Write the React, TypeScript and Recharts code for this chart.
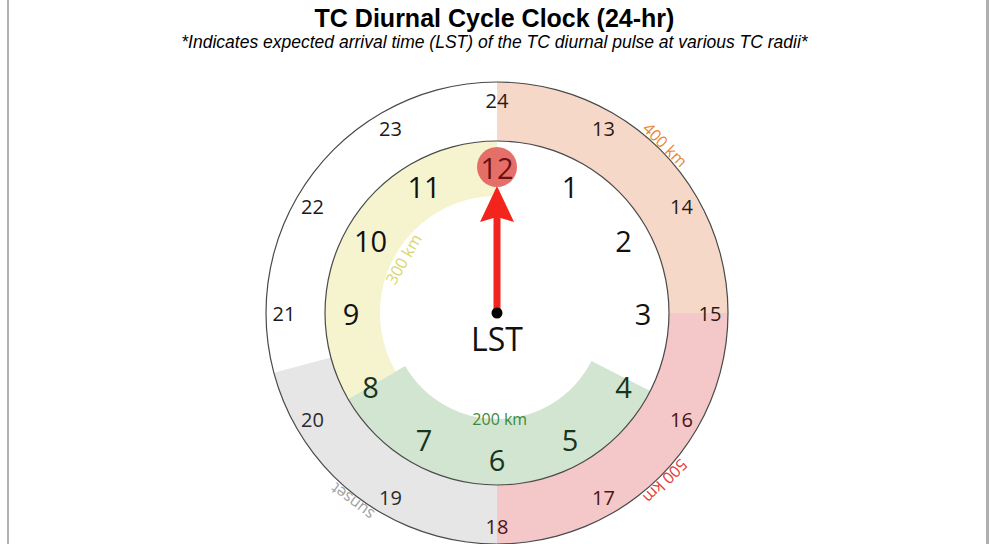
import { PieChart, Pie, Cell } from 'recharts'

// clock positions, clockwise from the top
const innerHours = ['12', '1', '2', '3', '4', '5', '6', '7', '8', '9', '10', '11']
const outerHours = ['24', '13', '14', '15', '16', '17', '18', '19', '20', '21', '22', '23']

// radius bands on the 24-hr ring (length in clock hours, starting at 24)
const outerBands = ['400 km', '500 km', 'sunset', '']
const outerBandHours = [3, 3, 2.5, 3.5]

// radius bands on the 12-hr ring (starting at 12)
const innerBands = ['', '200 km', '300 km']
const innerBandHours = [3.9, 4.1, 4]

const pointerHour = '12'

const CX = 497
const CY = 313
const RAD = Math.PI / 180
const NUM_FONT = '"Open Sans", "DejaVu Sans", sans-serif'

const outerFill = ['#f6d8c8', '#f4c7c9', '#e6e6e6', 'none']
const outerLabelColor = ['#e8872f', '#e23b3b', '#a0a0a0', '#000']
const outerNumColor = ['#2a1a16', '#4a1414', '#2b2b2b', '#1a1a1a']
const innerFill = ['none', '#d2e5d1', '#f6f3cf']
const innerEdge = [0, 106, 117]
const innerLabelColor = ['#000', '#3b8a3b', '#d9d66c']
const innerNumColor = ['#111', '#17361a', '#111']

const pt = (cx: number, cy: number, r: number, mid: number) => ({
  x: cx + r * Math.cos(-mid * RAD),
  y: cy + r * Math.sin(-mid * RAD),
})
const clockAngle = (mid: number) => (((90 - mid) % 360) + 360) % 360

// which band a clock position (in hours from the top) falls in
function bandOf(hours: number[], pos: number) {
  let start = 0
  for (let i = 0; i < hours.length; i++) {
    if (pos >= start - 0.01 && pos <= start + hours[i] + 0.01) return i
    start += hours[i]
  }
  return hours.length - 1
}

const hourData = (list: string[]) => list.map((h) => ({ name: h, value: 1 }))
const outerBandData = outerBands.map((name, i) => ({ name, value: outerBandHours[i] }))
const innerBandData = innerBands.map((name, i) => ({ name, value: innerBandHours[i] }))

function bandLabel(r: number, colors: string[]) {
  return (p: any) => {
    if (!p.name) return null
    const { x, y } = pt(p.cx, p.cy, r, p.midAngle)
    const a = clockAngle(p.midAngle)
    const rot = Math.abs(a - 180) < 10 ? 0 : a
    return (
      <text x={x} y={y} fill={colors[p.index]} fontSize={16} fontFamily={NUM_FONT}
        textAnchor="middle" dominantBaseline="central" transform={`rotate(${rot} ${x} ${y})`}>
        {p.name}
      </text>
    )
  }
}

function outerNumLabel(p: any) {
  const { x, y } = pt(p.cx, p.cy, 213, p.midAngle)
  const band = bandOf(outerBandHours, p.index)
  return (
    <text x={x} y={y} fill={outerNumColor[band]} fontSize={20} fontFamily={NUM_FONT}
      textAnchor="middle" dominantBaseline="central">
      {p.name}
    </text>
  )
}

function innerNumLabel(p: any) {
  const { x, y } = pt(p.cx, p.cy, 146, p.midAngle)
  const band = bandOf(innerBandHours, p.index)
  const isPointer = p.name === pointerHour
  const a = clockAngle(p.midAngle)
  return (
    <g>
      {isPointer && (
        <g>
          <g transform={`translate(${p.cx},${p.cy}) rotate(${a})`}>
            <rect x={-3.5} y={-96} width={7} height={96} fill="#f2241c" />
            <path d="M0,-127 L-17,-91 L0,-96 L17,-91 Z" fill="#f2241c" />
            <circle cx={0} cy={0} r={5.5} fill="#000" />
          </g>
          <circle cx={x} cy={y} r={20} fill="#e2605b" fillOpacity={0.9} />
          <text x={p.cx} y={p.cy + 25} fontSize={32} fontFamily={NUM_FONT} fill="#111"
            textAnchor="middle" dominantBaseline="central">LST</text>
        </g>
      )}
      <text x={x} y={y} fill={isPointer ? '#6e1010' : innerNumColor[band]} fontSize={29}
        fontFamily={NUM_FONT} textAnchor="middle" dominantBaseline="central">
        {p.name}
      </text>
    </g>
  )
}

export default function App() {
  return (
    <div style={{ position: 'absolute', left: 0, top: 0, width: 989, height: 544, background: '#fff' }}>
      <div style={{
        position: 'absolute', left: 7, top: 0, width: 977, height: 544,
        borderLeft: '2px solid #b3b3b3', borderRight: '3px solid #b0b0b0',
      }} />
      <div style={{
        position: 'absolute', left: 0, top: 4, width: 989, textAlign: 'center',
        fontFamily: '"Liberation Sans", Arial, sans-serif', fontWeight: 'bold', fontSize: 25,
      }}>
        TC Diurnal Cycle Clock (24-hr)
      </div>
      <div style={{
        position: 'absolute', left: 0, top: 32, width: 989, textAlign: 'center',
        fontFamily: '"Liberation Sans", Arial, sans-serif', fontStyle: 'italic', fontSize: 17.5,
      }}>
        *Indicates expected arrival time (LST) of the TC diurnal pulse at various TC radii*
      </div>
      <div style={{ position: 'absolute', left: 0, top: 0 }}>
        <PieChart width={989} height={544} margin={{ top: 0, right: 0, bottom: 0, left: 0 }}>
          <Pie data={outerBandData} dataKey="value" cx={CX} cy={CY} innerRadius={172} outerRadius={231}
            startAngle={90} endAngle={-270} stroke="none" labelLine={false}
            label={bandLabel(238, outerLabelColor)} isAnimationActive={false}>
            {outerBandData.map((d, i) => <Cell key={d.name + i} fill={outerFill[i]} stroke="none" />)}
          </Pie>
          {innerBands.map((b, k) => b ? (
            <Pie key={b} data={innerBandData} dataKey="value" cx={CX} cy={CY} innerRadius={innerEdge[k]}
              outerRadius={172} startAngle={90} endAngle={-270} stroke="none" labelLine={false}
              label={(p: any) => p.index === k ? bandLabel(k === 1 ? 106 : 108, innerLabelColor)(p) : null}
              isAnimationActive={false}>
              {innerBandData.map((d, i) => <Cell key={i} fill={i === k ? innerFill[k] : 'none'} stroke="none" />)}
            </Pie>
          ) : null)}
          {/* thin rims */}
          <Pie data={[{ name: 'outer rim', value: 1 }]} dataKey="value" cx={CX} cy={CY} innerRadius={230.4}
            outerRadius={231.6} startAngle={90} endAngle={-270} fill="#4a4a4a" stroke="none"
            isAnimationActive={false} />
          <Pie data={[{ name: 'inner rim', value: 1 }]} dataKey="value" cx={CX} cy={CY} innerRadius={171.4}
            outerRadius={172.6} startAngle={90} endAngle={-270} fill="#4a4a4a" stroke="none"
            isAnimationActive={false} />
          <Pie data={hourData(outerHours)} dataKey="value" cx={CX} cy={CY} innerRadius={172} outerRadius={231}
            startAngle={105} endAngle={-255} fill="none" stroke="none" labelLine={false}
            label={outerNumLabel} isAnimationActive={false} />
          <Pie data={hourData(innerHours)} dataKey="value" cx={CX} cy={CY} innerRadius={0} outerRadius={172}
            startAngle={105} endAngle={-255} fill="none" stroke="none" labelLine={false}
            label={innerNumLabel} isAnimationActive={false} />
        </PieChart>
      </div>
    </div>
  )
}
